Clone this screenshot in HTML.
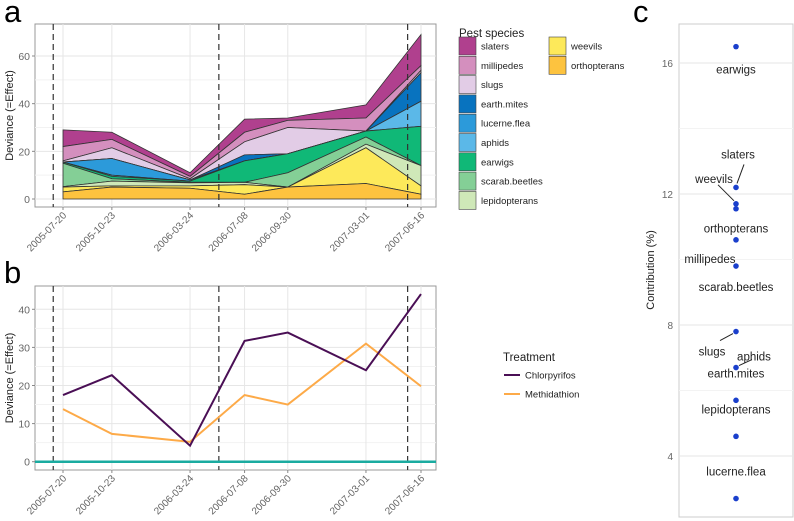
<!DOCTYPE html>
<html><head><meta charset="utf-8"><style>
body{margin:0;background:#fff;}
svg{display:block;font-family:"Liberation Sans",sans-serif;}
</style></head><body>
<svg id="s" width="794" height="521" xmlns="http://www.w3.org/2000/svg"></svg>
<script>
const dates=["2005-07-20","2005-10-23","2006-03-24","2006-07-08","2006-09-30","2007-03-01","2007-06-16"];
const vlines=["2005-07-01","2006-05-19","2007-05-21"];
const species=["orthopterans","weevils","lepidopterans","scarab.beetles","earwigs","aphids","lucerne.flea","earth.mites","slugs","millipedes","slaters"];
const colors=["#fdc33f","#fde95a","#cfe8b8","#84cf96","#10b877","#5bb8e8","#2c9ada","#0873bf","#e2cce6","#d48fbe","#b0408e"];
// cumulative tops per species per date
const cumTops=[
[3,5,4.5,2,5,6.5,2],
[5,5.5,5.5,6,5,21.5,5.5],
[5.2,7.5,6.8,7,5,23,14],
[15,8.5,7,7,11,26,14],
[15.5,9.5,7.5,16,19,28.5,30.5],
[15.5,10,7.5,16,19,28.5,41],
[15.5,17,8,16,19,28.5,41],
[15.5,17,8,18.5,19,28.5,53],
[16,21.5,8.5,24,30,28.5,54],
[22,25,9.5,28,33,34,56],
[29,28,11,33.5,34,39.5,69]];
const chlor=[17.5,22.7,4.2,31.7,33.9,24,44];
const meth=[13.8,7.3,5.2,17.5,15,31,19.8];
const contribNames=["earwigs","slaters","weevils","orthopterans","millipedes","scarab.beetles","slugs","aphids","earth.mites","lepidopterans","lucerne.flea"];
const contribVals=[16.5,12.2,11.7,11.55,10.6,9.8,7.8,6.7,5.7,4.6,2.7];
const aTicks=[0,20,40,60], bTicks=[0,10,20,30,40], cTicks=[4,8,12,16];

const S=document.getElementById('s');const NS="http://www.w3.org/2000/svg";
function el(t,a,txt){const e=document.createElementNS(NS,t);for(const k in a)e.setAttribute(k,a[k]);if(txt!==undefined)e.textContent=txt;S.appendChild(e);return e;}
const t0=Date.parse(dates[0]),t1=Date.parse(dates[6]);
const X=d=>63+(Date.parse(d)-t0)/(t1-t0)*(421-63);
const Ya=v=>199-v*(199-56)/60;
const Yb=v=>461.7-v*(461.7-309.3)/40;
const Yc=v=>456-(v-4)*(456-63)/12;

function panel(top,bot,ticks,Y,pname){
 el('rect',{x:35,y:top,width:401,height:bot-top,fill:'#fff',stroke:'#999','stroke-width':1,});
 for(let i=0;i<ticks.length;i++){
  const y=Y(ticks[i]);
  if(i<ticks.length-1){el('line',{x1:35,x2:436,y1:(y+Y(ticks[i+1]))/2,y2:(y+Y(ticks[i+1]))/2,stroke:'#f2f2f2'});}
  el('line',{x1:35,x2:436,y1:y,y2:y,stroke:'#e6e6e6'});
  el('line',{x1:32,x2:35,y1:y,y2:y,stroke:'#888'});
  const t=el('text',{x:30,y:y+4,'font-size':10.5,fill:'#666','text-anchor':'end'},ticks[i]);
  
 }
 dates.forEach(d=>{const x=X(d);
  el('line',{x1:x,x2:x,y1:top,y2:bot,stroke:'#e6e6e6'});
  el('line',{x1:x,x2:x,y1:bot,y2:bot+3,stroke:'#888'});
  const t=el('text',{transform:`translate(${x+4},${bot+9}) rotate(-45)`,'font-size':10,fill:'#666','text-anchor':'end'},d);
  
 });
 const yt=el('text',{transform:`translate(13,${(top+bot)/2}) rotate(-90)`,'font-size':11,fill:'#222','text-anchor':'middle'},'Deviance (=Effect)');
 
}
panel(24,207,aTicks,Ya,'a');
panel(286,470,bTicks,Yb,'b');

for(let s=species.length-1;s>=0;s--){
 const top=cumTops[s].map((v,i)=>[X(dates[i]),Ya(v)]);
 const base=s==0?dates.map(d=>[X(d),Ya(0)]):cumTops[s-1].map((v,i)=>[X(dates[i]),Ya(v)]);
 const pts=top.concat(base.slice().reverse()).map(p=>p.join(',')).join(' ');
 const p=el('polygon',{points:pts,fill:colors[s],stroke:'#333','stroke-width':0.8});
 
}
[[24,207],[286,470]].forEach(([a,b])=>vlines.forEach(d=>{const x=X(d);
 const l=el('line',{x1:x,x2:x,y1:a,y2:b,stroke:'#333','stroke-width':1.2,'stroke-dasharray':'6,4'});
 }));

const zl=el('line',{x1:35,x2:436,y1:Yb(0),y2:Yb(0),stroke:'#1aaba0','stroke-width':2.5});

[[meth,'#fdaa48','line-methidathion'],[chlor,'#4a0f55','line-chlorpyrifos']].forEach(([arr,c,n])=>{
 const l=el('polyline',{points:arr.map((v,i)=>X(dates[i])+','+Yb(v)).join(' '),fill:'none',stroke:c,'stroke-width':2});
 
});

[['a',4,22],['b',4,283],['c',633,22]].forEach(([t,x,y])=>{const e=el('text',{x:x,y:y,'font-size':31,fill:'#000'},t);
 });

const lt=el('text',{x:459,y:37,'font-size':11.5,fill:'#222'},'Pest species');

const legOrder=[10,9,8,7,6,5,4,3,2,1,0];
legOrder.forEach((s,i)=>{const col=i<9?0:1,row=i<9?i:i-9;const x=col?549:459,y=46+row*19.3;
 const r=el('rect',{x:x,y:y-9,width:17,height:18,fill:colors[s],stroke:'#444','stroke-width':0.6});
 
 const t=el('text',{x:x+22,y:y+3.5,'font-size':9.5,fill:'#222'},species[s]);
 
});
const lb=el('text',{x:503,y:361,'font-size':11.5,fill:'#222'},'Treatment');

[['Chlorpyrifos','#4a0f55',375],['Methidathion','#fdaa48',394]].forEach(([n,c,y])=>{
 el('line',{x1:504,x2:520,y1:y,y2:y,stroke:c,'stroke-width':2});
 const t=el('text',{x:525,y:y+3.5,'font-size':9.5,fill:'#222'},n);
 
});

el('rect',{x:679,y:24,width:114,height:493,fill:'#fff',stroke:'#ccc',});
for(let i=0;i<cTicks.length;i++){const y=Yc(cTicks[i]);
 el('line',{x1:679,x2:793,y1:y,y2:y,stroke:'#e6e6e6'});
 el('line',{x1:679,x2:793,y1:Yc(cTicks[i]+2),y2:Yc(cTicks[i]+2),stroke:'#f3f3f3'});
 const t=el('text',{x:673,y:y+4,'font-size':10,fill:'#666','text-anchor':'end'},cTicks[i]);
 }
const ct=el('text',{transform:`translate(654,${270}) rotate(-90)`,'font-size':11,fill:'#222','text-anchor':'middle'},'Contribution (%)');

const labOff={earwigs:[0,23],slaters:[2,-33],weevils:[-22,-25],orthopterans:[0,20],millipedes:[-26,19],"scarab.beetles":[0,21],slugs:[-24,20],aphids:[18,-11],"earth.mites":[0,-27],lepidopterans:[0,-27],"lucerne.flea":[0,-27]};
contribNames.forEach((n,i)=>{const x=736,y=Yc(contribVals[i]);
 const o=labOff[n];
 if(n=='slaters')el('line',{x1:x+1,y1:y-4,x2:x+8,y2:y-23,stroke:'#222'});
 if(n=='weevils')el('line',{x1:x-2,y1:y-3,x2:x-18,y2:y-19,stroke:'#222'});
 if(n=='slugs')el('line',{x1:x-3,y1:y+2,x2:x-16,y2:y+9,stroke:'#222'});
 if(n=='aphids')el('line',{x1:x+3,y1:y-2,x2:x+16,y2:y-8,stroke:'#222'});
 const c=el('circle',{cx:x,cy:y,r:2.8,fill:'#1a3fcc'});
 
 const t=el('text',{x:x+o[0],y:y+o[1]+4,'font-size':11.5,fill:'#222','text-anchor':'middle'},n);
 
});
</script>
</body></html>
